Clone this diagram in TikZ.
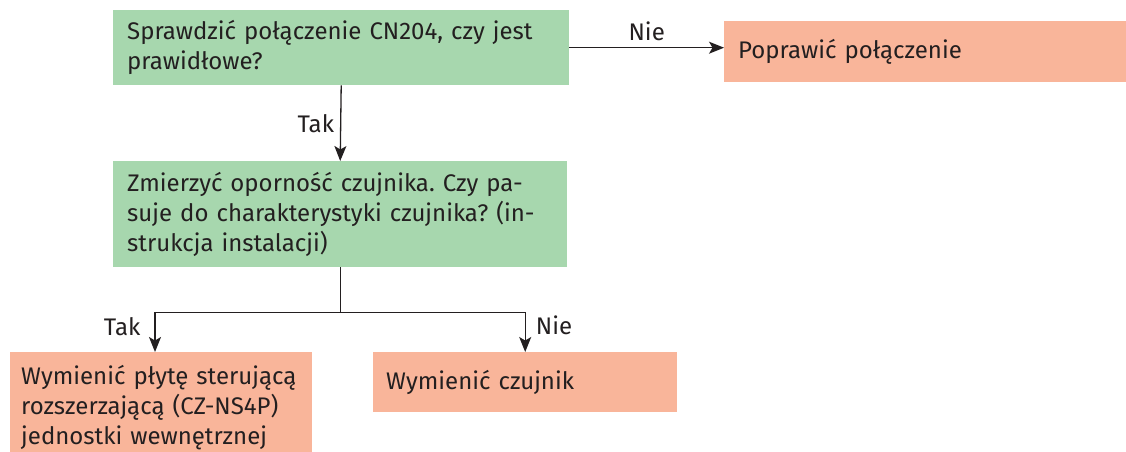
\documentclass[tikz,border=0pt]{standalone}
\usepackage{fontspec}
\setmainfont{Fira Sans}
\usetikzlibrary{arrows.meta,calc}
\definecolor{qgreen}{HTML}{A7D7AE}
\definecolor{aorange}{HTML}{F9B59A}
\definecolor{ink}{HTML}{231F20}
\frenchspacing
\begin{document}
\begin{tikzpicture}[x=1pt,y=-1pt,
  font=\fontsize{24}{30}\selectfont,
  box/.style={anchor=north west,inner xsep=14pt,inner ysep=0pt,align=left,text=ink},
  question/.style={box,fill=qgreen},
  action/.style={box,fill=aorange},
  flow/.style={draw=ink,line width=1.3pt,-{Stealth[length=15pt,width=12pt,inset=3.5pt]}},
  link/.style={draw=ink,line width=1.3pt},
  lbl/.style={text=ink,inner sep=6pt}]
\useasboundingbox (0,0) rectangle (1126,452);
\clip (0,0) rectangle (1126,452);

% decision boxes
\node[question,minimum width=456pt,minimum height=75pt,text width=428pt] (check) at (113,10)
  {Sprawdzić połączenie CN204, czy jest\\prawidłowe?};
\node[question,minimum width=454pt,minimum height=106pt,text width=426pt] (measure) at (113,161)
  {Zmierzyć oporność czujnika. Czy pa-\\suje do charakterystyki czujnika? (in-\\strukcja instalacji)};

% action boxes
\node[action,minimum width=402pt,minimum height=61pt,text width=374pt,inner xsep=13pt] (fix) at (724,21)
  {Poprawić połączenie};
\node[action,minimum width=301pt,text width=280pt,inner xsep=11pt,inner ysep=13pt] (board) at (10,352)
  {Wymienić płytę sterującą\\rozszerzającą (CZ-NS4P)\\jednostki wewnętrznej};
\node[action,minimum width=304pt,minimum height=60pt,text width=278pt,inner xsep=13pt] (sensor) at (373,352)
  {Wymienić czujnik};

% connectors
\draw[flow] (check.east) -- (check.east -| fix.west)
  node[midway,above,lbl] {Nie};
\draw[flow] (check.south) -- (measure.north)
  node[midway,left,lbl] {Tak};

\coordinate (split) at ($(measure.south)+(0,45)$);
\coordinate (tleft) at ($(board.north west)+(145,0)$);
\coordinate (tright) at (sensor.north);
\draw[link] (measure.south) -- (split);
\draw[flow] (split) -| (tleft)
  node[pos=0.68,left,lbl,inner xsep=14pt] {Tak};
\draw[flow] (split) -| (tright)
  node[pos=0.66,right,lbl,inner xsep=10pt] {Nie};
\end{tikzpicture}
\end{document}
